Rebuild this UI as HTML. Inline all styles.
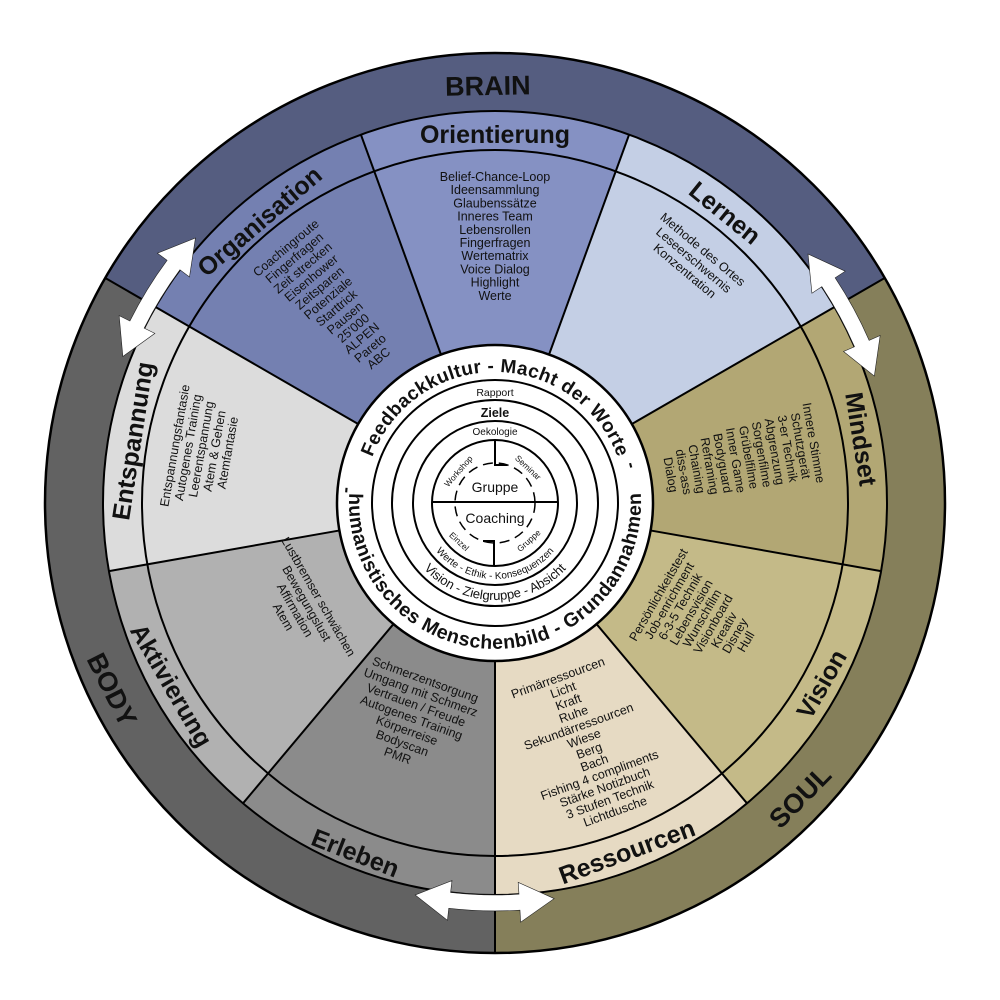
<!DOCTYPE html>
<html><head><meta charset="utf-8"><style>
html,body{margin:0;padding:0;background:#fff;width:1000px;height:1000px;overflow:hidden}
svg{display:block}
text{font-family:"Liberation Sans",sans-serif;fill:#111}
.b{font-size:12.5px}
.lab{font-size:25px;font-weight:bold}
.big{font-size:27px;font-weight:bold}
</style></head><body>
<svg width="1000" height="1000" viewBox="0 0 1000 1000" xmlns="http://www.w3.org/2000/svg">
<defs>
<path id="pTop" d="M364,503 A131 131 0 0 1 626,503"/>
<path id="pBot" d="M351.2,477.6 A146 146 0 1 0 638.8,477.6"/>
<path id="pWerte" d="M419,503 A76 76 0 0 0 571,503"/>
<path id="pVis" d="M398,503 A97 97 0 0 0 592,503"/>
</defs>
<path d="M495,503 L105.3,278 A450 450 0 0 1 884.7,278 Z" fill="#555d80"/>
<path d="M495,503 L884.7,278 A450 450 0 0 1 495,953 Z" fill="#857f5a"/>
<path d="M495,503 L495,953 A450 450 0 0 1 105.3,278 Z" fill="#626262"/>
<circle cx="495" cy="503" r="450" fill="none" stroke="#000" stroke-width="2.5"/>
<g stroke="#000" stroke-width="2">
<line x1="155.5" y1="307" x2="105.3" y2="278"/>
<line x1="834.5" y1="307" x2="884.7" y2="278"/>
<line x1="495" y1="895" x2="495" y2="953"/>
</g>
<path d="M495,503 L360.9,134.6 A392 392 0 0 1 629.1,134.6 Z" fill="#8591c3"/>
<path d="M495,503 L629.1,134.6 A392 392 0 0 1 834.5,307 Z" fill="#c4cfe5"/>
<path d="M495,503 L834.5,307 A392 392 0 0 1 881,571.1 Z" fill="#b2a774"/>
<path d="M495,503 L881,571.1 A392 392 0 0 1 747,803.3 Z" fill="#c4ba88"/>
<path d="M495,503 L747,803.3 A392 392 0 0 1 495,895 Z" fill="#e6dac3"/>
<path d="M495,503 L495,895 A392 392 0 0 1 243,803.3 Z" fill="#8b8b8b"/>
<path d="M495,503 L243,803.3 A392 392 0 0 1 109,571.1 Z" fill="#b1b1b1"/>
<path d="M495,503 L109,571.1 A392 392 0 0 1 155.5,307 Z" fill="#dcdcdc"/>
<path d="M495,503 L155.5,307 A392 392 0 0 1 360.9,134.6 Z" fill="#7480b1"/>
<circle cx="495" cy="503" r="392" fill="none" stroke="#000" stroke-width="2"/>
<circle cx="495" cy="503" r="353" fill="none" stroke="#000" stroke-width="2"/>
<g stroke="#000" stroke-width="2">
<line x1="441.3" y1="355.5" x2="360.9" y2="134.6"/>
<line x1="548.7" y1="355.5" x2="629.1" y2="134.6"/>
<line x1="631" y1="424.5" x2="834.5" y2="307"/>
<line x1="649.6" y1="530.3" x2="881" y2="571.1"/>
<line x1="595.9" y1="623.3" x2="747" y2="803.3"/>
<line x1="495" y1="660" x2="495" y2="895"/>
<line x1="394.1" y1="623.3" x2="243" y2="803.3"/>
<line x1="340.4" y1="530.3" x2="109" y2="571.1"/>
<line x1="359" y1="424.5" x2="155.5" y2="307"/>
</g>
<g fill="#fff" stroke="#222" stroke-width="0.6">
<path id="arr" d="M564.5,896.9 L528.1,881.6 L529.2,893.5 A392 392 0 0 1 460.8,893.5 L461.9,881.6 L425.5,896.9 L458.4,921.4 L459.4,909.4 A408 408 0 0 0 530.6,909.4 L531.6,921.4 Z" transform="rotate(1.5 495 503)"/>
<use href="#arr" transform="rotate(120 495 503)"/>
<use href="#arr" transform="rotate(-120 495 503)"/>
</g>
<circle cx="495" cy="503" r="158" fill="#fff" stroke="#000" stroke-width="2.5"/>
<g fill="none" stroke="#000" stroke-width="2">
<circle cx="495" cy="503" r="123"/>
<circle cx="495" cy="503" r="103"/>
<circle cx="495" cy="503" r="82"/>
<circle cx="495" cy="503" r="63"/>
<line x1="432" y1="502" x2="558" y2="502"/>
<polyline points="495,440 495,465 507,465"/>
<polyline points="483,541 494,541 494,566"/>
<circle cx="495" cy="503" r="40" stroke-width="1.5" stroke-dasharray="10 6"/>
</g>
<text style="font-size:19px;font-weight:bold"><textPath href="#pTop" startOffset="50%" text-anchor="middle" textLength="318" lengthAdjust="spacing">Feedbackkultur  -  Macht der Worte</textPath></text>
<text style="font-size:19.5px;font-weight:bold"><textPath href="#pBot" startOffset="50%" text-anchor="middle" textLength="478" lengthAdjust="spacing">humanistisches Menschenbild  -  Grundannahmen</textPath></text>
<text x="345" y="496" style="font-size:18px;font-weight:bold" transform="rotate(-85 345 490)" text-anchor="middle">-</text>
<text x="632" y="471" style="font-size:18px;font-weight:bold" transform="rotate(75 632 465)" text-anchor="middle">-</text>
<text x="495" y="396" text-anchor="middle" style="font-size:10.5px">Rapport</text>
<text x="495" y="417" text-anchor="middle" style="font-size:12.5px;font-weight:bold">Ziele</text>
<text x="495" y="435" text-anchor="middle" style="font-size:10px">Oekologie</text>
<text style="font-size:10px"><textPath href="#pWerte" startOffset="50%" text-anchor="middle" textLength="135" lengthAdjust="spacing">Werte - Ethik - Konsequenzen</textPath></text>
<text style="font-size:13px"><textPath href="#pVis" startOffset="50%" text-anchor="middle" textLength="160" lengthAdjust="spacing">Vision - Zielgruppe - Absicht</textPath></text>
<text x="495" y="492" text-anchor="middle" style="font-size:14px">Gruppe</text>
<text x="495" y="523" text-anchor="middle" style="font-size:14px">Coaching</text>
<text x="495" y="457.5" text-anchor="middle" style="font-size:8.5px" transform="rotate(-49 495 503)">Workshop</text>
<text x="495" y="457.5" text-anchor="middle" style="font-size:8.5px" transform="rotate(43 495 503)">Seminar</text>
<text x="495" y="558.5" text-anchor="middle" style="font-size:8.5px" transform="rotate(43 495 503)">Einzel</text>
<text x="495" y="556.5" text-anchor="middle" style="font-size:8.5px" transform="rotate(-42 495 503)">Gruppe</text>
<text x="495" y="95" class="big" text-anchor="middle" transform="rotate(-1 495 497)">BRAIN</text>
<text x="495" y="934" class="big" text-anchor="middle" transform="rotate(-45.5 495 497)">SOUL</text>
<text x="495" y="935" class="big" text-anchor="middle" transform="rotate(63.3 495 497)">BODY</text>
<text x="495" y="143" class="lab" text-anchor="middle">Orientierung</text>
<text x="495" y="143" class="lab" text-anchor="middle" transform="rotate(-40.5 495 497)">Organisation</text>
<text x="495" y="140" class="lab" text-anchor="middle" transform="rotate(39 495 497)">Lernen</text>
<text x="495" y="135" class="lab" text-anchor="middle" transform="rotate(81 495 497)">Mindset</text>
<text x="495" y="139" class="lab" text-anchor="middle" transform="rotate(-81.2 495 497)">Entspannung</text>
<text x="495" y="882" class="lab" text-anchor="middle" transform="rotate(-60.2 495 497)">Vision</text>
<text x="495" y="884" class="lab" text-anchor="middle" transform="rotate(-20.4 495 497)">Ressourcen</text>
<text x="495" y="888" class="lab" text-anchor="middle" transform="rotate(21.4 495 497)">Erleben</text>
<text x="495" y="880" class="lab" text-anchor="middle" transform="rotate(59.8 495 497)">Aktivierung</text>
<text class="b" text-anchor="middle">
<tspan x="495" y="181">Belief-Chance-Loop</tspan><tspan x="495" dy="13.2">Ideensammlung</tspan><tspan x="495" dy="13.2">Glaubenssätze</tspan><tspan x="495" dy="13.2">Inneres Team</tspan><tspan x="495" dy="13.2">Lebensrollen</tspan><tspan x="495" dy="13.2">Fingerfragen</tspan><tspan x="495" dy="13.2">Wertematrix</tspan><tspan x="495" dy="13.2">Voice Dialog</tspan><tspan x="495" dy="13.2">Highlight</tspan><tspan x="495" dy="13.2">Werte</tspan>
</text>
<text class="b" text-anchor="middle" transform="rotate(-40 495 497)">
<tspan x="495" y="176">Coachingroute</tspan><tspan x="495" dy="13.1">Fingerfragen</tspan><tspan x="495" dy="13.1">Zeit strecken</tspan><tspan x="495" dy="13.1">Eisenhower</tspan><tspan x="495" dy="13.1">Zeitsparen</tspan><tspan x="495" dy="13.1">Potenziale</tspan><tspan x="495" dy="13.1">Starttrick</tspan><tspan x="495" dy="13.1">Pausen</tspan><tspan x="495" dy="13.1">25'000</tspan><tspan x="495" dy="13.1">ALPEN</tspan><tspan x="495" dy="13.1">Pareto</tspan><tspan x="495" dy="13.1">ABC</tspan>
</text>
<text class="b" text-anchor="middle" transform="rotate(40 495 497)">
<tspan x="495" y="178">Methode des Ortes</tspan><tspan x="495" dy="14">Leseerschwernis</tspan><tspan x="495" dy="14">Konzentration</tspan>
</text>
<text class="b" text-anchor="middle" transform="rotate(80 495 497)">
<tspan x="497" y="178">Innere Stimme</tspan><tspan x="497.6" dy="13.3">Schutzgerät</tspan><tspan x="498.2" dy="13.3">3-er Technik</tspan><tspan x="498.8" dy="13.3">Abgrenzung</tspan><tspan x="499.4" dy="13.3">Sorgenfilme</tspan><tspan x="500" dy="13.3">Grübelfilme</tspan><tspan x="500.6" dy="13.3">Inner Game</tspan><tspan x="501.2" dy="13.3">Bodyguard</tspan><tspan x="501.8" dy="13.3">Reframing</tspan><tspan x="502.4" dy="13.3">Chaining</tspan><tspan x="503" dy="13.3">diss-ass</tspan><tspan x="503.6" dy="13.3">Dialog</tspan>
</text>
<text class="b" text-anchor="middle" transform="rotate(-80 495 497)">
<tspan x="490" y="177">Entspannungsfantasie</tspan><tspan x="490.5" dy="13.3">Autogenes Training</tspan><tspan x="491" dy="13.3">Leerentspannung</tspan><tspan x="491.5" dy="13.3">Atem &amp; Gehen</tspan><tspan x="492" dy="13.3">Atemfantasie</tspan>
</text>
<text class="b" text-anchor="middle" transform="rotate(-60 495 497)">
<tspan x="492" y="691.6">Persönlichkeitstest</tspan><tspan x="492.4" dy="12.4">Job-enrichment</tspan><tspan x="492.8" dy="12.4">6-3-5 Technik</tspan><tspan x="493.2" dy="12.4">Lebensvision</tspan><tspan x="493.6" dy="12.4">Wunschfilm</tspan><tspan x="494" dy="12.4">Visionboard</tspan><tspan x="494.4" dy="12.4">Kreativ</tspan><tspan x="494.8" dy="12.4">Disney</tspan><tspan x="495.2" dy="12.4">Hull</tspan>
</text>
<text class="b" text-anchor="middle" transform="rotate(-20 495 497)">
<tspan x="492.3" y="692.6">Primärressourcen</tspan><tspan x="493" dy="13.2">Licht</tspan><tspan x="493.8" dy="13.2">Kraft</tspan><tspan x="494.5" dy="13.2">Ruhe</tspan><tspan x="495.2" dy="13.2">Sekundärressourcen</tspan><tspan x="496" dy="13.2">Wiese</tspan><tspan x="496.7" dy="13.2">Berg</tspan><tspan x="497.4" dy="13.2">Bach</tspan><tspan x="498.1" dy="13.2">Fishing 4 compliments</tspan><tspan x="498.9" dy="13.2">Stärke Notizbuch</tspan><tspan x="499.6" dy="13.2">3 Stufen Technik</tspan><tspan x="500.3" dy="13.2">Lichtdusche</tspan>
</text>
<text class="b" text-anchor="middle" transform="rotate(20 495 497)">
<tspan x="492" y="696.6">Schmerzentsorgung</tspan><tspan x="492" dy="13.5">Umgang mit Schmerz</tspan><tspan x="492" dy="13.5">Vertrauen / Freude</tspan><tspan x="492" dy="13.5">Autogenes Training</tspan><tspan x="492" dy="13.5">Körperreise</tspan><tspan x="492" dy="13.5">Bodyscan</tspan><tspan x="492" dy="13.5">PMR</tspan>
</text>
<text class="b" text-anchor="middle" transform="rotate(60 495 497)">
<tspan x="493" y="704">Lustbremser schwächen</tspan><tspan x="493" dy="13.5">Bewegungslust</tspan><tspan x="493" dy="13.5">Affirmation</tspan><tspan x="493" dy="13.5">Atem</tspan>
</text>
</svg>
</body></html>
